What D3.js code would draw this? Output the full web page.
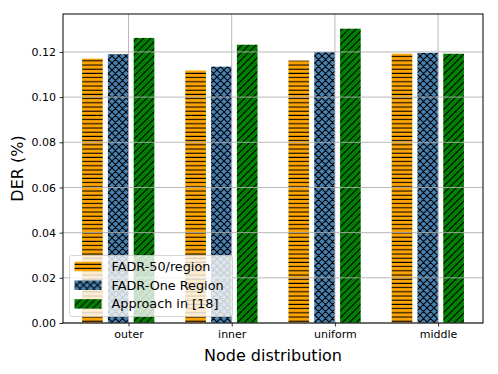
<!DOCTYPE html>
<html>
<head>
<meta charset="utf-8">
<script src="https://cdn.jsdelivr.net/npm/d3@7"></script>
<style>
  body { margin: 0; background: #fff; }
  text { font-family: "DejaVu Sans", sans-serif; }
</style>
</head>
<body>
<div id="chart"></div>
<script>
// categories and series (DER %)
const categories = ['outer', 'inner', 'uniform', 'middle'];
const fadr50 = [0.1170, 0.1118, 0.1162, 0.1192];
const fadrOne = [0.1190, 0.1135, 0.1200, 0.1196];
const approach18 = [0.1262, 0.1232, 0.1303, 0.1192];
const seriesNames = ['FADR-50/region', 'FADR-One Region', 'Approach in [18]'];
const yTicks = [0, 0.02, 0.04, 0.06, 0.08, 0.10, 0.12];

const width = 498, height = 374;
const margin = { left: 63, right: 15, top: 14, bottom: 51 };

const svg = d3.select('#chart').append('svg')
  .attr('width', width)
  .attr('height', height);

// hatch patterns
const defs = svg.append('defs');
function hatch(id, fill, size, draw) {
  const p = defs.append('pattern')
    .attr('id', id)
    .attr('patternUnits', 'userSpaceOnUse')
    .attr('width', size)
    .attr('height', size);
  p.append('rect').attr('width', size).attr('height', size).attr('fill', fill);
  draw(p, size);
}
hatch('h-orange', '#ffa500', 4.2, (p, s) => {
  p.append('line').attr('x1', 0).attr('x2', s).attr('y1', 2).attr('y2', 2)
    .attr('stroke', '#000').attr('stroke-width', 1.1);
});
hatch('h-blue', '#4682b4', 7, (p, s) => {
  p.append('path')
    .attr('d', `M0,0L${s},${s}M0,${s}L${s},0M${-s},0L${s},${2 * s}M0,${-s}L${2 * s},${s}M${-s},${s}L${s},${-s}M0,${2 * s}L${2 * s},0`)
    .attr('stroke', '#000').attr('stroke-width', 1.1);
});
hatch('h-green', '#008000', 7, (p, s) => {
  p.append('path')
    .attr('d', `M0,${s}L${s},0M${-s},${s}L${s},${-s}M0,${2 * s}L${2 * s},0`)
    .attr('stroke', '#000').attr('stroke-width', 1.1);
});
const fills = ['url(#h-orange)', 'url(#h-blue)', 'url(#h-green)'];

const x = d3.scaleLinear()
  .domain([-0.635, 3.435])
  .range([margin.left, width - margin.right]);
const y = d3.scaleLinear()
  .domain([0, 0.1368])
  .range([height - margin.bottom, margin.top]);

const series = [fadr50, fadrOne, approach18];
const offsets = [-0.45, -0.2, 0.05];
const barW = 0.2;

// bars
series.forEach((vals, si) => {
  svg.append('g').selectAll('rect')
    .data(vals)
    .join('rect')
    .attr('x', (d, i) => x(i + offsets[si]))
    .attr('width', x(barW) - x(0))
    .attr('y', d => y(d))
    .attr('height', d => y(0) - y(d))
    .attr('fill', fills[si]);
});

// grid on top of bars
const grid = svg.append('g');
grid.selectAll('line.h')
  .data(yTicks)
  .join('line')
  .attr('x1', margin.left).attr('x2', width - margin.right)
  .attr('y1', d => y(d)).attr('y2', d => y(d))
  .attr('stroke', '#b0b0b0').attr('stroke-width', 0.9);
grid.selectAll('line.v')
  .data(categories)
  .join('line')
  .attr('x1', (d, i) => x(i)).attr('x2', (d, i) => x(i))
  .attr('y1', margin.top).attr('y2', height - margin.bottom)
  .attr('stroke', '#b0b0b0').attr('stroke-width', 0.9);

// axes
const yAxis = svg.append('g')
  .attr('transform', `translate(${margin.left},0)`)
  .call(d3.axisLeft(y).tickValues(yTicks).tickFormat(d3.format('.2f')).tickSize(3.5).tickPadding(3.5));
const xAxis = svg.append('g')
  .attr('transform', `translate(0,${height - margin.bottom})`)
  .call(d3.axisBottom(x).tickValues(d3.range(categories.length)).tickFormat(i => categories[i]).tickSize(3.5).tickPadding(3.5));
[xAxis, yAxis].forEach(a => {
  a.select('.domain').remove();
  a.selectAll('text').attr('font-size', 11).attr('fill', '#000')
    .style('font-family', '"DejaVu Sans", sans-serif');
  a.selectAll('line').attr('stroke', '#000').attr('stroke-width', 0.8);
});

// frame
svg.append('rect')
  .attr('x', margin.left).attr('y', margin.top)
  .attr('width', width - margin.left - margin.right)
  .attr('height', height - margin.top - margin.bottom)
  .attr('fill', 'none').attr('stroke', '#000').attr('stroke-width', 1);

// axis titles
svg.append('text')
  .attr('x', (margin.left + width - margin.right) / 2)
  .attr('y', 361)
  .attr('text-anchor', 'middle')
  .attr('font-size', 16)
  .text('Node distribution');
svg.append('text')
  .attr('transform', `translate(23,${(margin.top + height - margin.bottom) / 2}) rotate(-90)`)
  .attr('text-anchor', 'middle')
  .attr('font-size', 16)
  .text('DER (%)');

// legend
const lg = svg.append('g').attr('transform', 'translate(69.5,255.5)');
lg.append('rect')
  .attr('width', 163).attr('height', 61)
  .attr('rx', 2.5)
  .attr('fill', '#fff').attr('fill-opacity', 0.8)
  .attr('stroke', '#cccccc').attr('stroke-width', 0.8);
seriesNames.forEach((name, i) => {
  const row = lg.append('g').attr('transform', `translate(0,${11 + i * 18.7})`);
  row.append('rect')
    .attr('x', 5).attr('y', -4.7)
    .attr('width', 27).attr('height', 9.4)
    .attr('fill', fills[i]);
  row.append('text')
    .attr('x', 42).attr('y', 4.5)
    .attr('font-size', 12.8)
    .text(name);
});
</script>
</body>
</html>
